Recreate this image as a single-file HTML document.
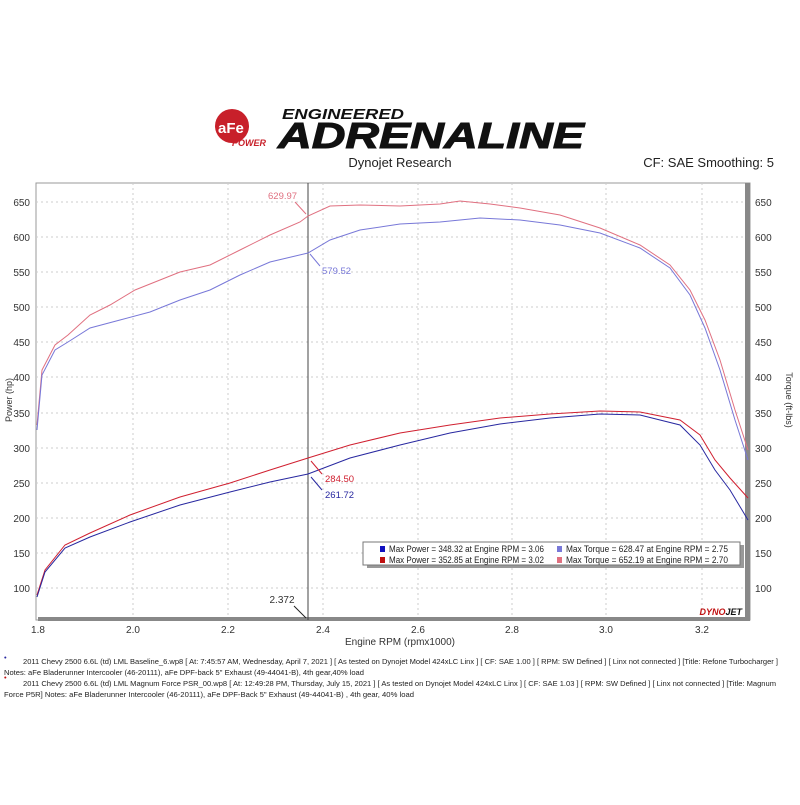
<!DOCTYPE html><html><head><style>body{margin:0;background:#fff;font-family:"Liberation Sans",sans-serif}</style></head><body>
<svg width="800" height="800" viewBox="0 0 800 800" xmlns="http://www.w3.org/2000/svg" font-family="Liberation Sans, sans-serif">
<rect width="800" height="800" fill="#fff"/>
<circle cx="232" cy="126" r="17" fill="#c8202a"/>
<text x="218" y="133" font-size="15" font-weight="bold" fill="#fff">aFe</text>
<text x="232" y="146" font-size="9" font-weight="bold" font-style="italic" fill="#c8202a">POWER</text>
<text x="282" y="119" font-size="15" font-weight="bold" font-style="italic" fill="#111" textLength="122" lengthAdjust="spacingAndGlyphs">ENGINEERED</text>
<text x="278" y="148" font-size="36" font-weight="bold" font-style="italic" fill="#111" stroke="#111" stroke-width="1" textLength="306" lengthAdjust="spacingAndGlyphs">ADRENALINE</text>
<text x="400" y="167" font-size="13" text-anchor="middle" fill="#222">Dynojet Research</text>
<text x="774" y="167" font-size="13" text-anchor="end" fill="#222">CF: SAE Smoothing: 5</text>
<rect x="36" y="183" width="714" height="437" fill="#fff" stroke="#999"/>
<rect x="745" y="183" width="5" height="437" fill="#888"/>
<rect x="38" y="617" width="712" height="4" fill="#888"/>
<g stroke="#ccc" stroke-dasharray="2,3">
<line x1="133" y1="183" x2="133" y2="617"/><line x1="228" y1="183" x2="228" y2="617"/><line x1="323" y1="183" x2="323" y2="617"/><line x1="418" y1="183" x2="418" y2="617"/><line x1="512" y1="183" x2="512" y2="617"/><line x1="606" y1="183" x2="606" y2="617"/><line x1="702" y1="183" x2="702" y2="617"/>
<line x1="36" y1="202" x2="745" y2="202"/><line x1="36" y1="237" x2="745" y2="237"/><line x1="36" y1="272" x2="745" y2="272"/><line x1="36" y1="307" x2="745" y2="307"/><line x1="36" y1="342" x2="745" y2="342"/><line x1="36" y1="377" x2="745" y2="377"/><line x1="36" y1="413" x2="745" y2="413"/><line x1="36" y1="448" x2="745" y2="448"/><line x1="36" y1="483" x2="745" y2="483"/><line x1="36" y1="518" x2="745" y2="518"/><line x1="36" y1="553" x2="745" y2="553"/><line x1="36" y1="588" x2="745" y2="588"/>
</g>
<g font-size="10" fill="#333">
<g text-anchor="end"><text x="30" y="206">650</text><text x="30" y="241">600</text><text x="30" y="276">550</text><text x="30" y="311">500</text><text x="30" y="346">450</text><text x="30" y="381">400</text><text x="30" y="417">350</text><text x="30" y="452">300</text><text x="30" y="487">250</text><text x="30" y="522">200</text><text x="30" y="557">150</text><text x="30" y="592">100</text></g>
<g><text x="755" y="206">650</text><text x="755" y="241">600</text><text x="755" y="276">550</text><text x="755" y="311">500</text><text x="755" y="346">450</text><text x="755" y="381">400</text><text x="755" y="417">350</text><text x="755" y="452">300</text><text x="755" y="487">250</text><text x="755" y="522">200</text><text x="755" y="557">150</text><text x="755" y="592">100</text></g>
<g text-anchor="middle"><text x="38" y="633">1.8</text><text x="133" y="633">2.0</text><text x="228" y="633">2.2</text><text x="323" y="633">2.4</text><text x="418" y="633">2.6</text><text x="512" y="633">2.8</text><text x="606" y="633">3.0</text><text x="702" y="633">3.2</text></g>
<text x="400" y="645" text-anchor="middle">Engine RPM (rpmx1000)</text>
<text transform="translate(12,400) rotate(-90)" text-anchor="middle" font-size="9">Power (hp)</text>
<text transform="translate(786,400) rotate(90)" text-anchor="middle" font-size="9">Torque (ft-lbs)</text>
</g>
<line x1="308" y1="183" x2="308" y2="620" stroke="#444"/>
<text x="282" y="603" font-size="10" fill="#333" text-anchor="middle">2.372</text>
<line x1="294" y1="606" x2="306" y2="618" stroke="#222"/>
<g fill="none" stroke-width="1">
<polyline stroke="#e07080" points="37,425 42,370 55,345 68,335 90,315 110,305 135,290 160,280 180,272 210,265 240,250 270,235 300,222 308,216 330,206 360,205 400,206 440,204 460,201 490,204 520,208 560,215 600,228 640,245 670,265 690,290 705,320 720,360 735,410 748,450"/>
<polyline stroke="#7878d8" points="37,430 42,375 55,350 68,342 90,328 120,320 150,312 180,300 210,290 240,275 270,262 308,253 330,240 360,230 400,224 440,222 480,218 520,220 560,225 600,233 640,248 670,268 690,295 705,328 720,370 735,420 748,460"/>
<polyline stroke="#d02030" points="37,595 45,570 65,545 90,533 130,515 180,497 230,483 270,470 308,458 350,445 400,433 450,425 500,418 550,414 600,411 640,412 680,420 700,435 715,460 730,478 748,498"/>
<polyline stroke="#2828a0" points="37,597 45,572 65,548 90,537 130,522 180,505 230,492 270,482 308,474 350,458 400,445 450,433 500,424 550,418 600,414 640,415 680,425 700,445 715,470 730,490 748,520"/>
</g>
<g font-size="9.5">
<text x="268" y="199" fill="#e07080">629.97</text><line x1="295" y1="202" x2="306" y2="214" stroke="#e07080"/>
<text x="322" y="274" fill="#7878d8">579.52</text><line x1="320" y1="266" x2="310" y2="254" stroke="#7878d8"/>
<text x="325" y="482" fill="#d02030">284.50</text><line x1="322" y1="474" x2="311" y2="461" stroke="#d02030"/>
<text x="325" y="498" fill="#2828a0">261.72</text><line x1="322" y1="490" x2="311" y2="477" stroke="#2828a0"/>
</g>
<rect x="367" y="545" width="377" height="23" fill="#999"/>
<rect x="363" y="542" width="377" height="23" fill="#fff" stroke="#777"/>
<g font-size="9.5" fill="#222">
<rect x="380" y="546" width="5" height="6" fill="#1010c0"/><text x="389" y="552" textLength="155" lengthAdjust="spacingAndGlyphs">Max Power = 348.32 at Engine RPM = 3.06</text>
<rect x="380" y="557" width="5" height="6" fill="#c01010"/><text x="389" y="563" textLength="155" lengthAdjust="spacingAndGlyphs">Max Power = 352.85 at Engine RPM = 3.02</text>
<rect x="557" y="546" width="5" height="6" fill="#7878d8"/><text x="566" y="552" textLength="162" lengthAdjust="spacingAndGlyphs">Max Torque = 628.47 at Engine RPM = 2.75</text>
<rect x="557" y="557" width="5" height="6" fill="#e07080"/><text x="566" y="563" textLength="162" lengthAdjust="spacingAndGlyphs">Max Torque = 652.19 at Engine RPM = 2.70</text>
</g>
<text x="742" y="615" font-size="9" font-weight="bold" font-style="italic" text-anchor="end" fill="#c01010">DYNO<tspan fill="#111">JET</tspan></text>
<g font-size="7.5" fill="#222">
<text x="4" y="660" fill="#2828a0">•</text>
<text x="23" y="664" textLength="755" lengthAdjust="spacingAndGlyphs">2011 Chevy 2500 6.6L (td) LML Baseline_6.wp8 [ At: 7:45:57 AM, Wednesday, April 7, 2021 ] [ As tested on Dynojet Model 424xLC Linx ] [ CF: SAE 1.00 ] [ RPM: SW Defined ] [ Linx not connected ] [Title: Refone Turbocharger ]</text>
<text x="4" y="675" textLength="360" lengthAdjust="spacingAndGlyphs">Notes: aFe Bladerunner Intercooler (46-20111), aFe DPF-back 5" Exhaust (49-44041-B), 4th gear,40% load</text>
<text x="4" y="680" fill="#c01010">•</text>
<text x="23" y="686" textLength="753" lengthAdjust="spacingAndGlyphs">2011 Chevy 2500 6.6L (td) LML Magnum Force PSR_00.wp8 [ At: 12:49:28 PM, Thursday, July 15, 2021 ] [ As tested on Dynojet Model 424xLC Linx ] [ CF: SAE 1.03 ] [ RPM: SW Defined ] [ Linx not connected ] [Title: Magnum</text>
<text x="4" y="697" textLength="410" lengthAdjust="spacingAndGlyphs">Force P5R]  Notes:  aFe Bladerunner Intercooler (46-20111),  aFe DPF-Back 5" Exhaust (49-44041-B) , 4th gear, 40% load</text>
</g>
</svg></body></html>
